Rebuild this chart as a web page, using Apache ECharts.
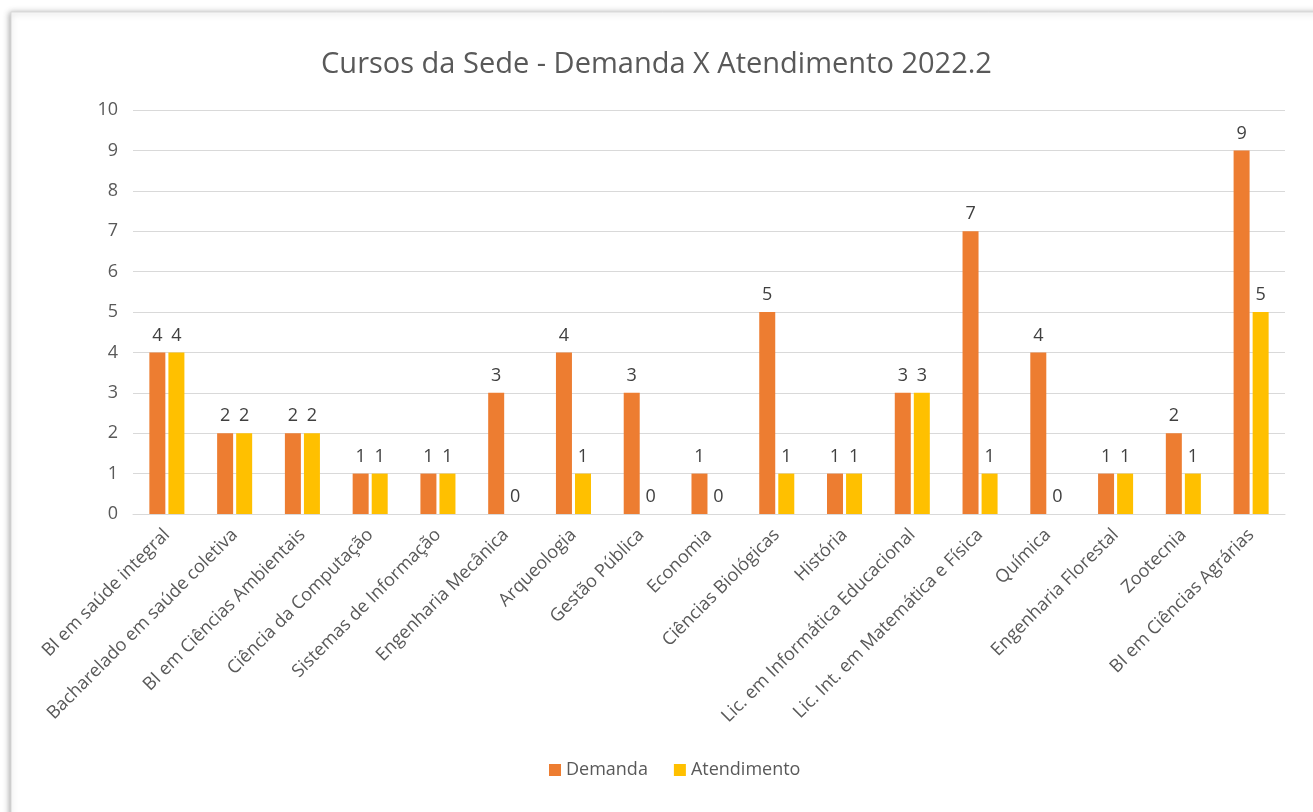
<!DOCTYPE html>
<html>
<head>
<meta charset="utf-8">
<script src="https://cdn.jsdelivr.net/npm/echarts@6/dist/echarts.min.js"></script>
<style>
  html, body { margin: 0; padding: 0; background: #fff; }
  #chart { width: 1313px; height: 812px; }
</style>
</head>
<body>
<div id="chart"></div>
<script>
// cursos (eixo x)
var cursos = [
  'BI em saúde integral',
  'Bacharelado em saúde coletiva',
  'BI em Ciências Ambientais',
  'Ciência da Computação',
  'Sistemas de Informação',
  'Engenharia Mecânica',
  'Arqueologia',
  'Gestão Pública',
  'Economia',
  'Ciências Biológicas',
  'História',
  'Lic. em Informática Educacional',
  'Lic. Int. em Matemática e Física',
  'Química',
  'Engenharia Florestal',
  'Zootecnia',
  'BI em Ciências Agrárias'
]
var demanda = [4, 2, 2, 1, 1, 3, 4, 3, 1, 5, 1, 3, 7, 4, 1, 2, 9]
var atendimento = [4, 2, 2, 1, 1, 0, 1, 0, 0, 1, 1, 3, 1, 0, 1, 1, 5]
var yTicks = [0, 1, 2, 3, 4, 5, 6, 7, 8, 9, 10]

var fonte = '"Open Sans", "Noto Sans", sans-serif'
var chart = echarts.init(document.getElementById('chart'))

var rotulo = {
  show: true,
  position: 'top',
  distance: 8,
  color: '#404040',
  fontSize: 18,
  fontFamily: fonte
}

var option = {
  backgroundColor: '#fff',
  animation: false,
  // moldura do gráfico (estilo Excel)
  graphic: [{
    type: 'rect',
    shape: { x: 11, y: 12, width: 1320, height: 820 },
    style: {
      fill: '#fff',
      stroke: '#d9d9d9',
      lineWidth: 1,
      shadowBlur: 6,
      shadowColor: 'rgba(0,0,0,0.35)',
      shadowOffsetX: -1,
      shadowOffsetY: 1
    },
    z: -10
  }],
  title: {
    text: 'Cursos da Sede - Demanda X Atendimento 2022.2',
    left: 'center',
    top: 45,
    textStyle: {
      color: '#595959',
      fontSize: 29,
      fontWeight: 'normal',
      fontFamily: fonte
    }
  },
  legend: {
    bottom: 28,
    left: 544,
    itemWidth: 12,
    itemHeight: 12,
    itemGap: 26,
    icon: 'rect',
    textStyle: { color: '#595959', fontSize: 18, fontFamily: fonte },
    data: ['Demanda', 'Atendimento']
  },
  grid: {
    left: 133,
    right: 28,
    top: 110,
    bottom: 298
  },
  xAxis: {
    type: 'category',
    data: cursos,
    axisTick: { show: false },
    axisLine: { lineStyle: { color: '#d9d9d9', width: 1 } },
    axisLabel: {
      rotate: 45,
      interval: 0,
      color: '#595959',
      fontSize: 18,
      fontFamily: fonte,
      margin: 18
    }
  },
  yAxis: {
    type: 'value',
    min: yTicks[0],
    max: yTicks[yTicks.length - 1],
    interval: 1,
    axisLine: { show: false },
    axisTick: { show: false },
    splitLine: { lineStyle: { color: '#d9d9d9', width: 1 } },
    axisLabel: {
      color: '#595959',
      fontSize: 18,
      fontFamily: fonte,
      margin: 15
    }
  },
  series: [
    {
      name: 'Demanda',
      type: 'bar',
      data: demanda,
      barWidth: 16,
      barGap: '19%',
      itemStyle: { color: '#ed7d31' },
      label: rotulo
    },
    {
      name: 'Atendimento',
      type: 'bar',
      data: atendimento,
      barWidth: 16,
      itemStyle: { color: '#ffc000' },
      label: rotulo
    }
  ]
}
chart.setOption(option)
</script>
</body>
</html>
